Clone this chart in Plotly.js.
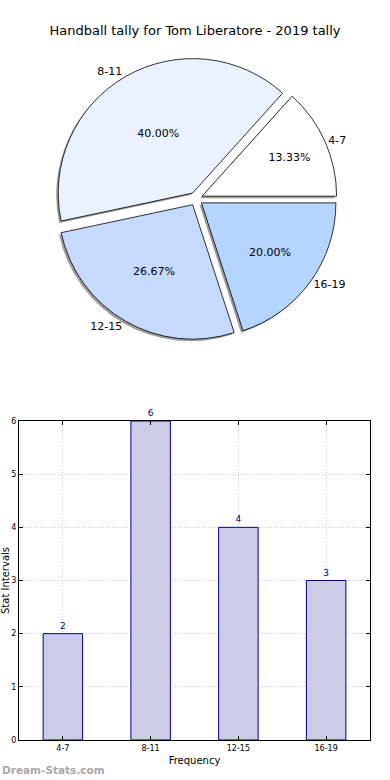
<!DOCTYPE html>
<html>
<head>
<meta charset="utf-8">
<script src="https://cdn.plot.ly/plotly-3.0.1.min.js"></script>
<style>html,body{margin:0;padding:0;background:#fff;}#chart{width:390px;height:780px;}</style>
</head>
<body>
<div id="chart"></div>
<script>
const categories = ["4-7", "8-11", "12-15", "16-19"];
const counts = [2, 6, 4, 3];
const sliceColors = ["#ffffff", "#eaf2ff", "#c6d9ff", "#b3d5ff"];
const titleText = "Handball tally for Tom Liberatore - 2019 tally";
const xTitle = "Frequency";
const yTitle = "Stat Intervals";
const yTicks = [0, 1, 2, 3, 4, 5, 6];

const FONT = "DejaVu Sans, sans-serif";
const total = counts.reduce((a, b) => a + b, 0);
// first slice starts at 3 o'clock and runs counterclockwise
const rot = 90 - 360 * counts[0] / total;
const pullArr = categories.map(() => 0.05);
const cx = 0.5026, cy = 0.745, hw = 0.362, hh = 0.2;
const pieDomain = {x: [cx - hw, cx + hw], y: [cy - hh, cy + hh]};
const shadowDomain = {x: [cx - hw - 2/390, cx + hw - 2/390], y: [cy - hh - 2/780, cy + hh - 2/780]};

const pieShadow = {
  type: "pie", labels: categories, values: counts, sort: false,
  direction: "counterclockwise", rotation: rot, pull: pullArr,
  marker: {colors: categories.map(() => "rgba(90,90,90,0.6)"), line: {width: 0}},
  textinfo: "none", domain: shadowDomain, showlegend: false, hoverinfo: "skip"
};
const piePct = {
  type: "pie", labels: categories, values: counts, sort: false,
  direction: "counterclockwise", rotation: rot, pull: pullArr,
  marker: {colors: sliceColors, line: {color: "#000000", width: 0.8}},
  texttemplate: "%{percent:.2%}", textposition: "inside", insidetextorientation: "horizontal",
  textfont: {family: FONT, size: 11, color: "#000"},
  domain: pieDomain, showlegend: false, hoverinfo: "skip"
};
const pieLbl = {
  type: "pie", labels: categories, values: counts, sort: false,
  direction: "counterclockwise", rotation: rot, pull: pullArr,
  marker: {colors: categories.map(() => "rgba(0,0,0,0)"), line: {width: 0}},
  texttemplate: "%{label}", textposition: "outside",
  outsidetextfont: {family: FONT, size: 11, color: "#000"},
  domain: pieDomain, showlegend: false, hoverinfo: "skip"
};
const bars = {
  type: "bar", x: categories, y: counts, width: 0.45,
  marker: {color: "#ccccE6", line: {color: "#000080", width: 1}},
  text: counts.map(String), textposition: "outside", cliponaxis: false,
  textfont: {family: FONT, size: 9, color: "#000080"},
  xaxis: "x", yaxis: "y", showlegend: false, hoverinfo: "skip"
};

const gridStyle = {showgrid: true, gridcolor: "#c4c4c4", griddash: "1px,2px", gridwidth: 1};
const layout = {
  width: 390, height: 780,
  margin: {l: 0, r: 0, t: 0, b: 0},
  paper_bgcolor: "#ffffff", plot_bgcolor: "#ffffff",
  font: {family: FONT, color: "#000"},
  title: {text: titleText, x: 0.5, xanchor: "center", y: 1 - 30/780, yanchor: "middle",
          font: {family: FONT, size: 13, color: "#000"}},
  xaxis: Object.assign({domain: [19/390, 370/390], anchor: "y", type: "category", range: [-0.5, 3.5],
          showline: true, linecolor: "#000", linewidth: 1, mirror: "allticks",
          ticks: "inside", ticklen: 4, tickcolor: "#000",
          tickfont: {family: FONT, size: 8, color: "#000"},
          title: {text: xTitle, font: {family: FONT, size: 10, color: "#000"}, standoff: 5},
          zeroline: false, fixedrange: true}, gridStyle),
  yaxis: Object.assign({domain: [1 - 740/780, 1 - 421/780], anchor: "x", range: [0, 6],
          tickvals: yTicks, showline: true, linecolor: "#000", linewidth: 1, mirror: "allticks",
          ticks: "inside", ticklen: 4, tickcolor: "#000",
          tickfont: {family: FONT, size: 8, color: "#000"},
          title: {text: yTitle, font: {family: FONT, size: 10, color: "#000"}, standoff: 5},
          zeroline: false, fixedrange: true}, gridStyle),
  bargap: 0,
  annotations: [{text: "<b>Dream-Stats.com</b>", xref: "paper", yref: "paper", x: 0, y: 0.002,
                 xanchor: "left", yanchor: "bottom", showarrow: false,
                 font: {family: FONT, size: 10.5, color: "#a8a8a8"}}]
};

Plotly.newPlot("chart", [pieShadow, piePct, pieLbl, bars], layout, {displayModeBar: false, staticPlot: true});
</script>
</body>
</html>
